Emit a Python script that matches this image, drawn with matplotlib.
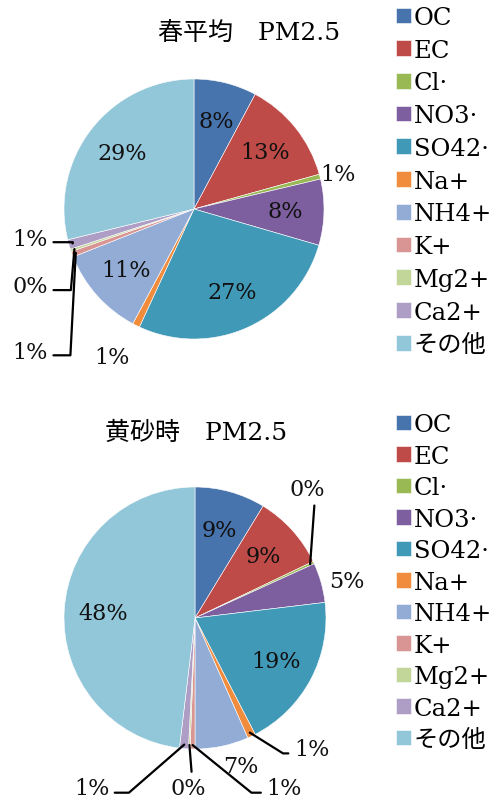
import os
import matplotlib
matplotlib.use("Agg")
import matplotlib.pyplot as plt
from matplotlib import font_manager
import numpy as np

# make sure the bundled serif face is registered
_serif = os.path.join(matplotlib.get_data_path(), "fonts", "ttf", "DejaVuSerif.ttf")
if os.path.exists(_serif):
    font_manager.fontManager.addfont(_serif)
plt.rcParams["font.family"] = ["DejaVu Serif", "Noto Sans CJK JP"]

# PM2.5 component shares (%)
components = ["OC", "EC", "Cl·", "NO3·", "SO42·", "Na+", "NH4+", "K+", "Mg2+", "Ca2+", "その他"]
spring_mean = [7.8, 12.9, 0.6, 8.2, 27.4, 0.9, 11.2, 0.7, 0.3, 1.2, 28.8]
kosa_event = [8.7, 9.2, 0.3, 4.9, 19.3, 1.0, 6.6, 0.6, 0.2, 1.1, 48.1]
titles = ["春平均\u3000PM2.5", "黄砂時\u3000PM2.5"]

colors = ["#4874AE", "#BE4B48", "#98B954", "#7D5FA0", "#4199B8", "#F08C3C",
          "#92ACD6", "#D99594", "#C2D69A", "#AE9EC6", "#92C6D9"]

W, H = 500, 803
fig = plt.figure(figsize=(W / 100, H / 100), dpi=100)
fig.patch.set_facecolor("white")

PCT_SIZE = 16


def px_axes(cx, cy, r):
    return fig.add_axes([(cx - r) / W, 1 - (cy + r) / H, 2 * r / W, 2 * r / H])


def slice_mid(values, i):
    v = np.asarray(values, dtype=float)
    frac = (np.cumsum(v)[i] - v[i] / 2) / v.sum()
    ang = np.deg2rad(90 - 360 * frac)
    return np.cos(ang), np.sin(ang)


def draw_pie(ax, values, outside, leaders):
    wedges, _, pcts = ax.pie(
        values, colors=colors, startangle=90, counterclock=False,
        autopct="%.0f%%", pctdistance=0.7,
        wedgeprops=dict(edgecolor="white", linewidth=0.4),
        textprops=dict(fontsize=PCT_SIZE, color="#111111"))
    ax.set_xlim(-1, 1)
    ax.set_ylim(-1, 1)
    for w in wedges:
        w.set_clip_on(False)
    for i, pos in outside.items():
        pcts[i].set_position(pos)
    for i, (style, relpos) in leaders.items():
        x, y = slice_mid(values, i)
        pcts[i].set_visible(False)
        ax.annotate(pcts[i].get_text(), xy=(0.97 * x, 0.97 * y), xytext=outside[i],
                    ha="center", va="center", fontsize=PCT_SIZE, color="#111111",
                    annotation_clip=False,
                    arrowprops=dict(arrowstyle="-", connectionstyle=style, relpos=relpos,
                                    color="black", lw=1.6, shrinkA=2, shrinkB=0))
    return wedges


# spring average
ax1 = px_axes(194, 210, 130)
outside1 = {2: (1.11, 0.27), 5: (-0.63, -1.14),
            7: (-1.26, -1.10), 8: (-1.26, -0.59), 9: (-1.26, -0.23)}
leaders1 = {7: ("angle,angleA=0,angleB=87", (1, 0.35)),
            8: ("angle,angleA=0,angleB=85", (1, 0.3)),
            9: ("angle,angleA=0,angleB=85", (1, 0.35))}
w1 = draw_pie(ax1, spring_mean, outside1, leaders1)

# yellow-sand event
ax2 = px_axes(195, 619, 131)
outside2 = {2: (0.86, 0.985), 3: (1.16, 0.28), 5: (0.89, -1.0), 6: (0.35, -1.13),
            7: (0.68, -1.30), 8: (-0.05, -1.30), 9: (-0.79, -1.30)}
leaders2 = {2: ("arc3", (0.7, 0)),
            5: ("angle,angleA=0,angleB=-32", (0, 0.3)),
            7: ("angle,angleA=0,angleB=-39", (0, 0.3)),
            8: ("arc3", (0.6, 1)),
            9: ("angle,angleA=0,angleB=41", (1, 0.3))}
w2 = draw_pie(ax2, kosa_event, outside2, leaders2)

fig.text(249 / W, 1 - 33 / H, titles[0], ha="center", va="center", fontsize=18)
fig.text(196 / W, 1 - 433 / H, titles[1], ha="center", va="center", fontsize=18)

legend_kw = dict(loc="upper left", frameon=False, fontsize=17.5, handlelength=0.62,
                 handleheight=0.62, handletextpad=0.12, borderpad=0, borderaxespad=0)
fig.legend(w1, components, bbox_to_anchor=(396 / W, 1 - 7 / H), labelspacing=0.40, **legend_kw)
fig.legend(w2, components, bbox_to_anchor=(396 / W, 1 - 414 / H), labelspacing=0.35, **legend_kw)

fig.savefig("out.png", dpi=100, facecolor="white")
